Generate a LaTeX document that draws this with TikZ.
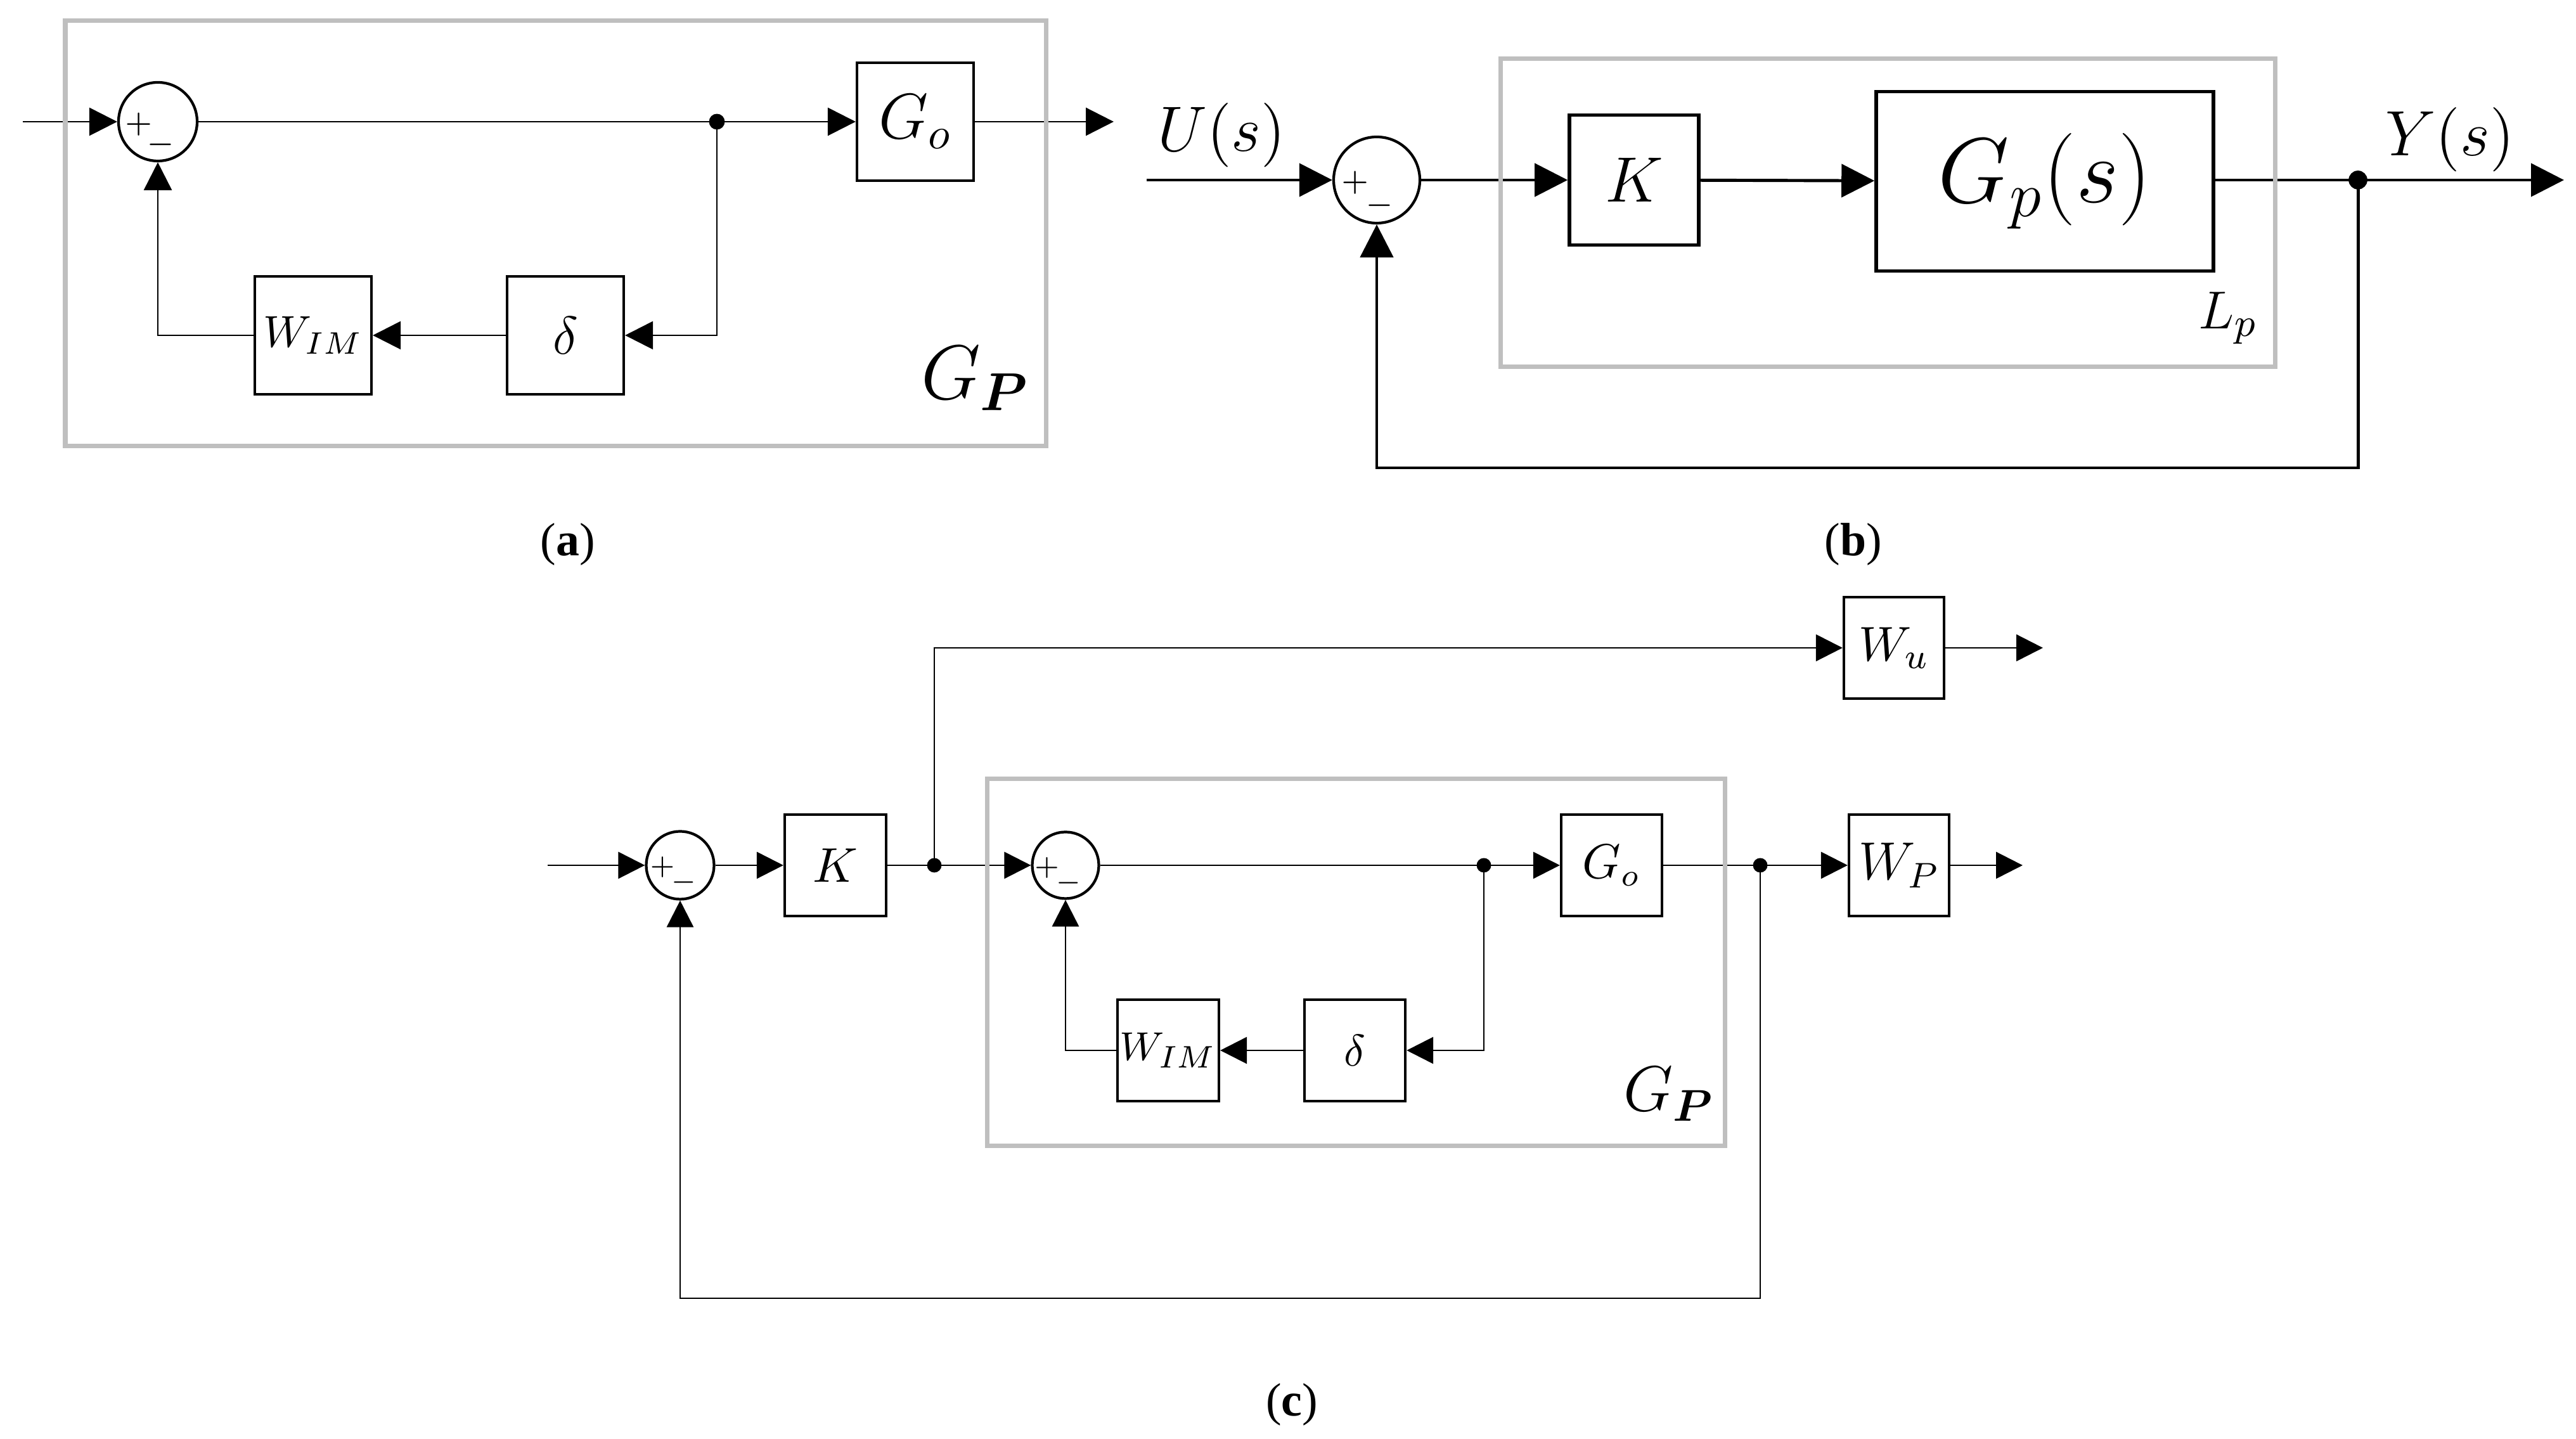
\documentclass[tikz,border=0pt]{standalone}
\usepackage{amsmath}
\usepackage{fontspec}
\newfontfamily\capfont{Liberation Serif}
\usetikzlibrary{calc,arrows.meta}

\tikzset{
    block/.style={draw, line width=0.6pt, inner sep=0pt},
    sumnode/.style={draw, circle, line width=0.6pt, inner sep=0pt},
    sign/.style={inner sep=0pt, font=\fontsize{7}{8}\selectfont},
    sig/.style={line width=0.4pt, -{Triangle[length=#1,width=#1]}},
    sig/.default=0.22cm,
    wire/.style={line width=0.4pt},
    frame/.style={draw=black!25, line width=1pt},
    caption/.style={font=\capfont\fontsize{10.5}{12}\selectfont},
}

\newcommand{\fs}[1]{\fontsize{#1}{#1}\selectfont}
% plus sign with a lowered minus beside it
\newcommand{\pmsign}[2]{$+$\kern#1\raisebox{#2}{$-$}}

\begin{document}
\begin{tikzpicture}
    \useasboundingbox (0,0) rectangle (20.32,11.35);

    % ---------------- (a) ----------------
    % Define points for the main line
    \coordinate (ina) at (0.18,10.39);
    \coordinate (jcta) at (5.655,10.39);
    \coordinate (outa) at (8.785,10.39);

    % Draw sum and blocks
    \node[sumnode, minimum size=0.62cm] (suma) at (1.245,10.39) {};
    \node[sign] (sgna) at ($(suma) + (-0.0625,-0.1)$) {\pmsign{-1.3pt}{-4.5pt}};
    \node[block, minimum width=0.92cm, minimum height=0.93cm, font=\fs{14.5}] (goa) at (7.22,10.39) {$G_o$};
    \node[block, minimum width=0.92cm, minimum height=0.93cm, font=\fs{10.4}] (wima) at (2.47,8.705) {$W_{IM}$};
    \node[block, minimum width=0.92cm, minimum height=0.93cm, font=\fs{12}] (dela) at (4.46,8.705) {$\delta$};

    % Draw connectors
    \draw[sig] (ina) -- (suma);
    \draw[sig] (suma) -- (goa);
    \draw[sig] (goa) -- (outa);
    \draw[sig] (jcta) |- (dela);
    \draw[sig] (dela) -- (wima);
    \draw[sig] (wima) -| (suma);
    \filldraw[black] (jcta) circle (0.055cm);

    % Draw grey frame and its label
    \draw[frame] (0.515,7.83) rectangle (8.25,11.185);
    \node[font=\fs{16.8}] (gpa) at (7.695,8.365) {$G_{\boldsymbol{P}}$};
    \node[caption] (capa) at (4.48,7.055) {(\textbf{a})};

    % ---------------- (b) ----------------
    % Define points for the loop
    \coordinate (inb) at (9.045,9.93);
    \coordinate (jctb) at (18.6,9.93);
    \coordinate (outb) at (20.225,9.93);
    \coordinate (fbb) at (18.6,7.66);

    % Draw sum and blocks
    \node[sumnode, minimum size=0.68cm] (sumb) at (10.86,9.93) {};
    \node[sign] (sgnb) at ($(sumb) + (-0.0725,-0.11)$) {\pmsign{-0.75pt}{-5.1pt}};
    \node[block, line width=0.8pt, minimum width=1.02cm, minimum height=1.025cm, font=\fs{14.5}] (kb) at (12.89,9.93) {$K$};
    \node[block, line width=0.8pt, minimum width=2.66cm, minimum height=1.415cm, font=\fs{20}] (gpb) at (16.13,9.92) {$G_p(s)$};

    % Draw connectors
    \draw[sig=0.26cm, line width=0.7pt] (inb) -- (sumb);
    \draw[sig=0.26cm, line width=0.7pt] (sumb) -- (kb);
    \draw[sig=0.26cm, line width=0.7pt] (kb) -- (gpb);
    \draw[sig=0.26cm, line width=0.7pt] (gpb.east |- jctb) -- (outb);
    \draw[sig=0.26cm, line width=0.7pt] (jctb) -- (fbb) -| (sumb);
    \filldraw[black] (jctb) circle (0.067cm);

    % Draw grey frame and the labels
    \draw[frame] (11.835,8.455) rectangle (17.945,10.885);
    \node[font=\fs{15.4}] (usb) at (9.635,10.285) {$U(s)$};
    \node[font=\fs{15}] (ysb) at (19.325,10.25) {$Y(s)$};
    \node[font=\fs{13}] (lpb) at (17.575,8.84) {$L_p$};
    \node[caption] (capb) at (14.62,7.055) {(\textbf{b})};

    % ---------------- (c) ----------------
    % Define points for the main line
    \coordinate (inc) at (4.32,4.525);
    \coordinate (jc1) at (7.37,4.525);
    \coordinate (jc2) at (11.705,4.525);
    \coordinate (jc3) at (13.885,4.525);
    \coordinate (wuout) at (16.115,6.24);
    \coordinate (wpout) at (15.955,4.525);
    \coordinate (fbc) at (13.885,1.11);

    % Draw sums and blocks
    \node[sumnode, minimum size=0.535cm] (sumc) at (5.365,4.525) {};
    \node[sign, font=\fs{6}] (sgnc) at ($(sumc) + (-0.0525,-0.075)$) {\pmsign{-0.84pt}{-3.4pt}};
    \node[sumnode, minimum size=0.525cm] (sumd) at (8.405,4.525) {};
    \node[sign, font=\fs{6}] (sgnd) at ($(sumd) + (-0.06,-0.08)$) {\pmsign{-0.84pt}{-3.4pt}};
    \node[block, minimum width=0.8cm, minimum height=0.8cm, font=\fs{11.4}] (kc) at (6.59,4.525) {$K$};
    \node[block, minimum width=0.795cm, minimum height=0.8cm, font=\fs{10.6}] (goc) at (12.7125,4.525) {$G_o$};
    \node[block, minimum width=0.79cm, minimum height=0.8cm, font=\fs{11.4}] (wuc) at (14.94,6.24) {$W_u$};
    \node[block, minimum width=0.79cm, minimum height=0.8cm, font=\fs{11.8}] (wpc) at (14.98,4.525) {$W_P$};
    \node[block, minimum width=0.8cm, minimum height=0.8cm, font=\fs{9.4}] (wimc) at (9.215,3.065) {$W_{IM}$};
    \node[block, minimum width=0.795cm, minimum height=0.8cm, font=\fs{10}] (delc) at (10.688,3.065) {$\delta$};

    % Draw connectors
    \draw[sig=0.21cm] (inc) -- (sumc);
    \draw[sig=0.21cm] (sumc) -- (kc);
    \draw[sig=0.21cm] (kc) -- (sumd);
    \draw[sig=0.21cm] (jc1) |- (wuc);
    \draw[sig=0.21cm] (wuc) -- (wuout);
    \draw[sig=0.21cm] (sumd) -- (goc);
    \draw[sig=0.21cm] (jc2) |- (delc);
    \draw[sig=0.21cm] (delc) -- (wimc);
    \draw[sig=0.21cm] (wimc) -| (sumd);
    \draw[sig=0.21cm] (goc) -- (wpc);
    \draw[sig=0.21cm] (wpc) -- (wpout);
    \draw[sig=0.21cm] (jc3) -- (fbc) -| (sumc);
    \filldraw[black] (jc1) circle (0.05cm);
    \filldraw[black] (jc2) circle (0.05cm);
    \filldraw[black] (jc3) circle (0.05cm);

    % Draw grey frame and its label
    \draw[frame] (7.785,2.31) rectangle (13.605,5.205);
    \node[font=\fs{14.4}] (gpc) at (13.165,2.72) {$G_{\boldsymbol{P}}$};
    \node[caption] (capc) at (10.19,0.27) {(\textbf{c})};

\end{tikzpicture}
\end{document}
